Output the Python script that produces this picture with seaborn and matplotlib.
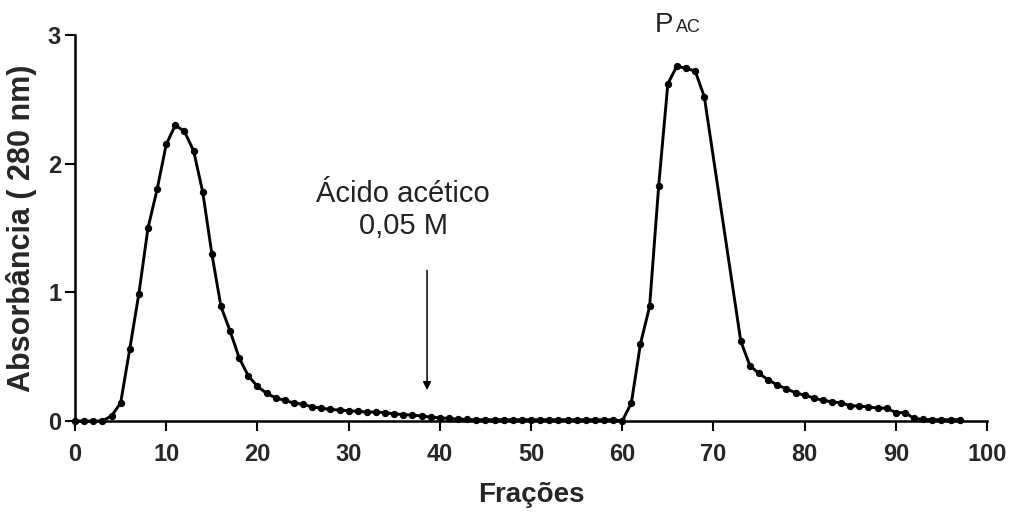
import matplotlib
matplotlib.use("Agg")
import matplotlib.pyplot as plt
import seaborn as sns
import pandas as pd

fractions = [0, 1, 2, 3, 4, 5, 6, 7, 8, 9,
             10, 11, 12, 13, 14, 15, 16, 17, 18, 19,
             20, 21, 22, 23, 24, 25, 26, 27, 28, 29,
             30, 31, 32, 33, 34, 35, 36, 37, 38, 39,
             40, 41, 42, 43, 44, 45, 46, 47, 48, 49,
             50, 51, 52, 53, 54, 55, 56, 57, 58, 59,
             60, 61, 62, 63, 64, 65, 66, 67, 68, 69,
             73, 74, 75, 76, 77, 78, 79,
             80, 81, 82, 83, 84, 85, 86, 87, 88, 89,
             90, 91, 92, 93, 94, 95, 96, 97]
absorbance = [0.0, 0.0, 0.0, 0.0, 0.04, 0.14, 0.56, 0.99, 1.50, 1.80,
              2.15, 2.30, 2.25, 2.10, 1.78, 1.30, 0.89, 0.70, 0.49, 0.35,
              0.27, 0.215, 0.18, 0.16, 0.14, 0.13, 0.11, 0.10, 0.09, 0.085,
              0.08, 0.075, 0.07, 0.07, 0.065, 0.055, 0.05, 0.045, 0.04, 0.03,
              0.025, 0.02, 0.015, 0.012, 0.01, 0.01, 0.01, 0.01, 0.01, 0.01,
              0.01, 0.01, 0.01, 0.01, 0.01, 0.01, 0.01, 0.01, 0.01, 0.01,
              0.0, 0.14, 0.60, 0.89, 1.83, 2.62, 2.76, 2.74, 2.72, 2.52,
              0.62, 0.43, 0.37, 0.32, 0.28, 0.25, 0.22,
              0.20, 0.18, 0.16, 0.15, 0.14, 0.12, 0.115, 0.11, 0.10, 0.10,
              0.065, 0.065, 0.02, 0.013, 0.01, 0.01, 0.01, 0.01]

x_ticks = [0, 10, 20, 30, 40, 50, 60, 70, 80, 90, 100]
y_ticks = [0, 1, 2, 3]
x_label = "Frações"
y_label = "Absorbância ( 280 nm)"
arrow_text = "Ácido acético\n0,05 M"

sns.set_theme(style="white")
plt.rcParams['font.family'] = ['Liberation Sans', 'DejaVu Sans']

df = pd.DataFrame({"Frações": fractions, "Abs": absorbance})

fig = plt.figure(figsize=(10.14, 5.13), dpi=100)
ax = fig.add_axes([0.074, 0.1793, 0.8994, 0.7525])

sns.lineplot(data=df, x="Frações", y="Abs", ax=ax, color="black",
             linewidth=2.1, marker="o", markersize=4.5,
             markeredgecolor="black", markerfacecolor="black", clip_on=False)

ax.set_xlim(0, 100)
ax.set_ylim(0, 3)
ax.set_xticks(x_ticks)
ax.set_yticks(y_ticks)
ax.set_xticklabels([str(t) for t in x_ticks])
ax.set_yticklabels([str(t) for t in y_ticks])

for side in ["top", "right"]:
    ax.spines[side].set_visible(False)
for side in ["left", "bottom"]:
    ax.spines[side].set_linewidth(1.8)
    ax.spines[side].set_color("black")

ax.tick_params(axis="both", which="major", direction="out", length=7,
               width=1.5, color="black", labelsize=17, bottom=True, left=True)
ax.tick_params(axis="x", pad=9)
ax.tick_params(axis="y", pad=3)
for lab in ax.get_xticklabels() + ax.get_yticklabels():
    lab.set_fontweight("bold")

ax.set_xlabel(x_label, fontsize=20, fontweight="bold", labelpad=11)
ax.set_ylabel(y_label, fontsize=22, fontweight="bold", labelpad=8)

ax.text(36.0, 1.64, arrow_text, ha="center", va="center", fontsize=21,
        color="#222222", linespacing=1.15)
ax.annotate("", xy=(38.6, 0.24), xytext=(38.6, 1.17),
            arrowprops=dict(arrowstyle="-|>", lw=1.1, color="black",
                            mutation_scale=12, shrinkA=0, shrinkB=0))

ax.text(63.6, 3.02, "P", ha="left", va="baseline", fontsize=20,
        color="#222222", clip_on=False)
ax.text(65.9, 3.02, "AC", ha="left", va="baseline", fontsize=13,
        color="#222222", clip_on=False)

fig.savefig("out.png", dpi=100)
